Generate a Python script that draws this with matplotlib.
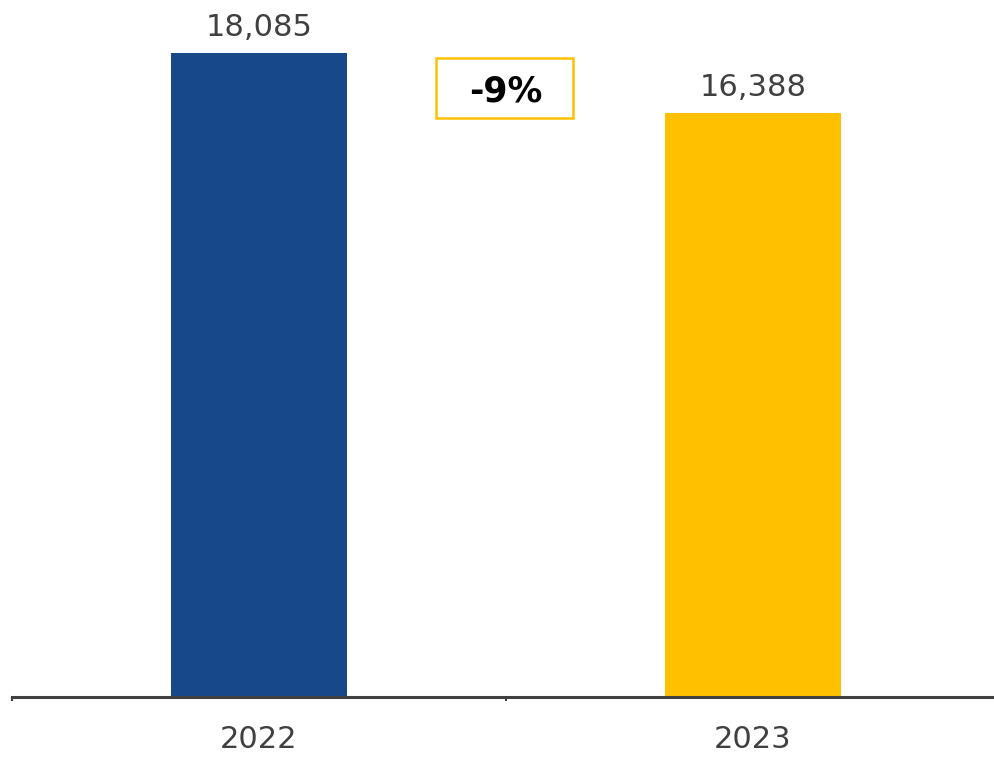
import matplotlib.pyplot as plt
from matplotlib.patches import Rectangle

# data
years = ['2022', '2023']
values = [18085, 16388]
colors = ['#174889', '#FFC000']
change_label = '-9%'

fig = plt.figure(figsize=(9.94, 7.58), dpi=100)
ax = fig.add_axes([12 / 994, 61 / 758, 988 / 994, 697 / 758])

x = list(range(len(years)))
ax.bar(x, values, width=0.355, color=colors)

for xi, v in zip(x, values):
    ax.annotate(f'{v:,}', (xi, v), xytext=(0, 12.5), textcoords='offset points',
                ha='center', va='baseline', fontsize=22, color='#404040')

ax.set_xlim(-0.5, 1.5)
ax.set_ylim(0, 19573)

# change box between the bars
ax.add_patch(Rectangle((0.429, 0.8307), 0.1387, 0.0861, transform=ax.transAxes,
                       fill=False, edgecolor='#FFC000', linewidth=1.8, clip_on=False))
ax.text(0.5, 0.869, change_label, transform=ax.transAxes, ha='center', va='center',
        fontsize=25, fontweight='bold', color='black')

for s in ['left', 'right', 'top']:
    ax.spines[s].set_visible(False)
ax.spines['bottom'].set_color('#404040')
ax.spines['bottom'].set_linewidth(2.2)

ax.set_yticks([])
ax.set_xticks(x)
ax.set_xticklabels(years, fontsize=22, color='#404040')
ax.tick_params(axis='x', which='major', length=0, pad=20)
ax.set_xticks([-0.5, 0.5, 1.5], minor=True)
ax.tick_params(axis='x', which='minor', length=3, width=1.5, color='#404040', direction='out')

fig.savefig('out.png', dpi=100)
